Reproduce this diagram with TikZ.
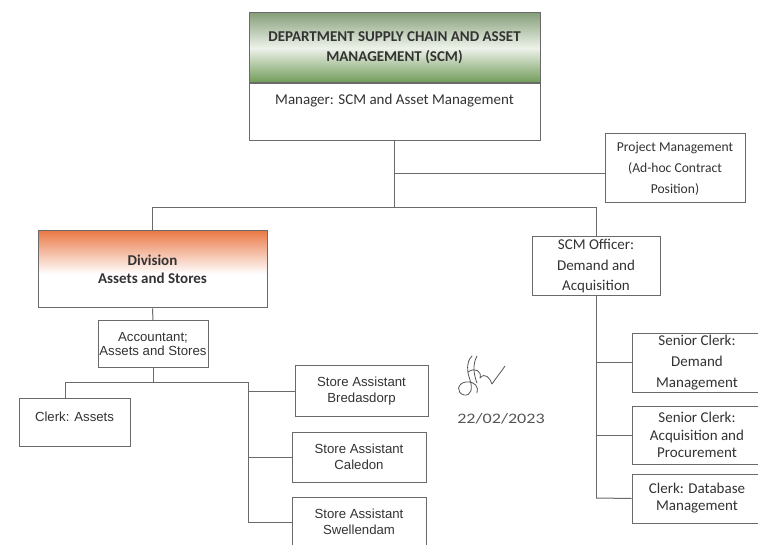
\documentclass[tikz,border=0pt]{standalone}
\usepackage{fontspec}
\setmainfont{Carlito}
\newfontfamily\arialf{Liberation Sans}
\definecolor{lineC}{HTML}{6A6A6A}
\definecolor{txtC}{HTML}{333333}
\definecolor{hdrTop}{HTML}{86A07A}
\definecolor{hdrMid}{HTML}{EEF2EA}
\definecolor{hdrBot}{HTML}{6F9A57}
\definecolor{divOr}{HTML}{EA7A48}
\definecolor{sigC}{HTML}{555555}
\begin{document}
\begin{tikzpicture}[x=1pt,y=-1pt,
  box/.style={draw=lineC, line width=1pt, rectangle, inner sep=0pt, align=center, text=txtC},
  conn/.style={draw=lineC, line width=1pt},
  cal/.style={font=\fontsize{15}{#1}\selectfont},
  calb/.style={font=\bfseries\fontsize{15}{#1}\selectfont},
  ari/.style={font=\arialf\fontsize{13.2}{#1}\selectfont},
  sig/.style={draw=sigC, line width=0.8pt, line cap=round, line join=round}]
\clip (0,0) rectangle (758,545);
\fill[white] (0,0) rectangle (758,545);
% top box
\node[box, calb=20, minimum width=291pt, minimum height=70pt, top color=hdrTop, bottom color=hdrBot, middle color=hdrMid] (hdr) at (394.5,48) {DEPARTMENT SUPPLY CHAIN AND ASSET\\MANAGEMENT (SCM)};
\node[box, cal=20, minimum width=291pt, inner ysep=0pt, text height=21pt, text depth=36pt, anchor=north] (mgr) at (394.5,83) {Manager: SCM and Asset Management};
\node[box, font=\fontsize{13.6}{21}\selectfont, minimum width=140pt, minimum height=69pt] (pm) at (675,168.5) {Project Management\\(Ad-hoc Contract\\Position)};
\node[box, cal=20.5, minimum width=128pt, minimum height=59pt] (scm) at (596,266.5) {SCM Officer:\\Demand and\\Acquisition};
% division box with orange fade
\fill[white] (38,231) rectangle (267,308);
\shade[top color=divOr, bottom color=white] (38,231) rectangle (267,274);
\node[box, calb=18, minimum width=229pt, minimum height=77pt] (div) at (152.5,269.5) {Division\\Assets and Stores};
\node[box, ari=14, minimum width=110pt, minimum height=47pt] (acc) at (153,344.5) {Accountant;\\Assets and Stores};
\node[box, ari=16, minimum width=111pt, inner ysep=0pt, text height=23pt, text depth=25pt] (clk) at (74.5,422) {Clerk: Assets};
\node[box, ari=16, minimum width=133pt, minimum height=50pt] (sa1) at (361.5,391) {Store Assistant\\Bredasdorp};
\node[box, ari=16, minimum width=134pt, minimum height=50pt] (sa2) at (359,457) {Store Assistant\\Caledon};
\node[box, ari=16, minimum width=134pt, minimum height=50pt] (sa3) at (359,522) {Store Assistant\\Swellendam};
\node[box, cal=21, minimum width=130pt, minimum height=58pt] (sc1) at (697,363) {Senior Clerk:\\Demand\\Management};
\node[box, cal=17.5, minimum width=130pt, minimum height=58pt] (sc2) at (697,435) {Senior Clerk:\\Acquisition and\\Procurement};
\node[box, cal=17, minimum width=130pt, minimum height=49pt] (sc3) at (697,498.5) {Clerk: Database\\Management};
% connectors
\coordinate (j1) at (394.5,208);
\coordinate (pmj) at (394.5,174);
\draw[conn] (mgr.south) -- (j1);
\draw[conn] (pmj) -- (pmj -| pm.west);
\draw[conn] (div.north) -- (div.north |- j1) -- (scm.north |- j1) -- (scm.north);
\draw[conn] (div.south) -- (acc.north);
\coordinate (j2) at (153,383);
\coordinate (cj) at (65,383);
\coordinate (sv) at (248,383);
\coordinate (svb) at (248,522);
\draw[conn] (acc.south) -- (j2);
\draw[conn] (cj |- clk.north) -- (cj) -- (sv) -- (svb);
\draw[conn] (sv |- sa1.west) -- (sa1.west);
\draw[conn] (sv |- sa2.west) -- (sa2.west);
\draw[conn] (sv |- sa3.west) -- (sa3.west);
\coordinate (rv) at (596,498);
\draw[conn] (scm.south) -- (rv);
\draw[conn] (rv |- sc1.west) -- (sc1.west);
\draw[conn] (rv |- sc2.west) -- (sc2.west);
\draw[conn] (rv) -- (sc3.west);
% signature
\draw[sig] (472,356) .. controls (466,362) and (467,372) .. (470,380)
  .. controls (473,389) and (471,396) .. (464,395)
  .. controls (456,393) and (457,383) .. (466,382)
  .. controls (475,381) and (479,387) .. (477,393);
\draw[sig] (477,356) .. controls (472,365) and (474,375) .. (477,383);
\draw[sig] (468,372) .. controls (475,367) and (482,371) .. (480,378)
  .. controls (485,372) and (490,378) .. (492,384)
  .. controls (496,378) and (501,372) .. (505,366);
\node[font=\fontsize{14.5}{14.5}\selectfont, text=sigC] (date) at (501,419) {\scalebox{1.25}[1]{22/02/2023}};
\end{tikzpicture}
\end{document}
